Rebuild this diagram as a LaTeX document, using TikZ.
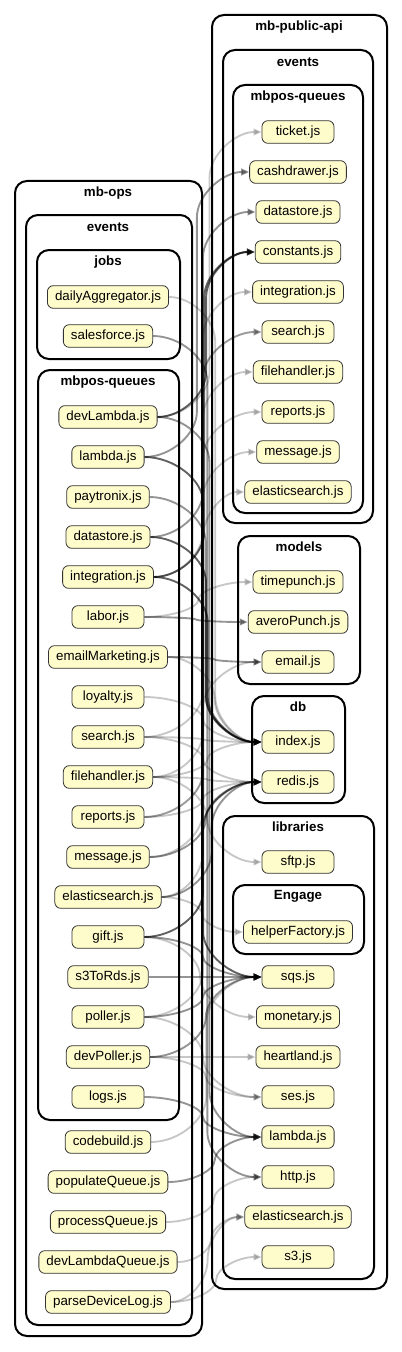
\documentclass[tikz,border=0pt]{standalone}
\usepackage{fontspec}
\setmainfont{Liberation Sans}
\usepackage{tikz}
\usetikzlibrary{arrows.meta,calc}

\begin{document}
\begin{tikzpicture}[x=0.75pt, y=-0.75pt,
    module/.style={draw=black!80, fill=yellow!20, rounded corners=4.5pt, line width=0.6pt,
        minimum height=17pt, minimum width=54pt, inner xsep=5.7pt, inner ysep=0pt,
        font=\fontsize{10}{12}\selectfont},
    cluster/.style={draw=black, line width=1.5pt, rounded corners=9pt},
    title/.style={font=\bfseries\fontsize{10}{12}\selectfont},
    dep/.style={every edge/.style={draw=black, opacity=#1, line width=1.4pt,
        -{Triangle[length=6pt,width=5pt]},
        to path={let \p1=(\tikztostart), \p2=(\tikztotarget),
            \n1={max(-34,min(34,(\y2-\y1)/2))}, \n2={(\x1+\x2)/2} in
            .. controls ({(\x1+\n2)/2},\y1) and (\n2,{\y1+\n1/2}) .. (\n2,{\y1+\n1})
            -- (\n2,{\y2-\n1})
            .. controls (\n2,{\y2-\n1/2}) and ({(\n2+\x2)/2},\y2) .. (\p2)}}},
    dep/.default=0.22
    ]
    \useasboundingbox (0,0) rectangle (401,1352);

    % clusters of mb-ops
    \draw[cluster] (15,181) rectangle (202,1336);
    \node[title] (t-ops) at (108,193) {mb-ops};
    \draw[cluster] (26,215) rectangle (192,1325);
    \node[title] (t-opsevents) at (108,227) {events};
    \draw[cluster] (37,250) rectangle (180,359);
    \node[title] (t-jobs) at (108,262) {jobs};
    \draw[cluster] (38,370) rectangle (179,1120);
    \node[title] (t-opsqueues) at (108,382) {mbpos-queues};

    % clusters of mb-public-api
    \draw[cluster] (212,15) rectangle (387,1289);
    \node[title] (t-api) at (299,27) {mb-public-api};
    \draw[cluster] (223,50) rectangle (373,523);
    \node[title] (t-apievents) at (298,62) {events};
    \draw[cluster] (233,85) rectangle (363,513);
    \node[title] (t-apiqueues) at (298,97) {mbpos-queues};
    \draw[cluster] (238,536) rectangle (360,684);
    \node[title] (t-models) at (299,547) {models};
    \draw[cluster] (252,696) rectangle (345,803);
    \node[title] (t-db) at (298,707) {db};
    \draw[cluster] (223,816) rectangle (374,1279);
    \node[title] (t-libraries) at (298,827) {libraries};
    \draw[cluster] (233,885) rectangle (364,954);
    \node[title] (t-engage) at (298,896) {Engage};

    % modules on the left
    \node[module] (ops-dailyAggregator) at (108,297) {dailyAggregator.js};
    \node[module] (ops-salesforce) at (108,336) {salesforce.js};
    \foreach \m [count=\i from 0] in {devLambda,lambda,paytronix,datastore,integration,labor,emailMarketing,loyalty,search,filehandler,reports,message,elasticsearch,gift,s3ToRds,poller,devPoller,logs} {
        \node[module] (ops-\m) at (108,417+40*\i) {\m.js};
    }
    \foreach \m [count=\i from 0] in {codebuild,populateQueue,processQueue,devLambdaQueue,parseDeviceLog} {
        \node[module] (ops-\m) at (108,1142+40*\i) {\m.js};
    }

    % modules on the right
    \foreach \m [count=\i from 0] in {ticket,cashdrawer,datastore,constants,integration,search,filehandler,reports,message,elasticsearch} {
        \node[module] (api-\m) at (298,132+40*\i) {\m.js};
    }
    \foreach \m [count=\i from 0] in {timepunch,averoPunch,email} {
        \node[module] (mod-\m) at (298,582+40*\i) {\m.js};
    }
    \node[module] (db-index) at (298,742) {index.js};
    \node[module] (db-redis) at (298,782) {redis.js};
    \node[module] (lib-sftp) at (298,862) {sftp.js};
    \node[module] (lib-helperFactory) at (298,932) {helperFactory.js};
    \foreach \m [count=\i from 0] in {sqs,monetary,heartland,ses,lambda,http,elasticsearch,s3} {
        \node[module] (lib-\m) at (298,977+40*\i) {\m.js};
    }

    % light dependencies
    \path[dep]
        (ops-dailyAggregator.east) edge (db-index.west)
        (ops-devLambda.east) edge (api-ticket.west)
        (ops-integration.east) edge (api-integration.west)
        (ops-labor.east) edge (mod-timepunch.west)
        (ops-emailMarketing.east) edge (db-index.west)
        (ops-loyalty.east) edge (db-index.west)
        (ops-search.east) edge (api-search.west)
        (ops-search.east) edge (db-index.west)
        (ops-search.east) edge (db-redis.west)
        (ops-filehandler.east) edge (api-filehandler.west)
        (ops-filehandler.east) edge (db-index.west)
        (ops-filehandler.east) edge (db-redis.west)
        (ops-filehandler.east) edge (lib-sftp.west)
        (ops-reports.east) edge (api-reports.west)
        (ops-reports.east) edge (mod-email.west)
        (ops-reports.east) edge (db-redis.west)
        (ops-message.east) edge (api-message.west)
        (ops-elasticsearch.east) edge (api-elasticsearch.west)
        (ops-elasticsearch.east) edge (lib-helperFactory.west)
        (ops-gift.east) edge (lib-monetary.west)
        (ops-poller.east) edge (api-search.west)
        (ops-poller.east) edge (lib-ses.west)
        (ops-devPoller.east) edge (lib-ses.west)
        (ops-devPoller.east) edge (lib-heartland.west)
        (ops-codebuild.east) edge (lib-sqs.west)
        (ops-processQueue.east) edge (lib-http.west)
        (ops-devLambdaQueue.east) edge (lib-elasticsearch.west)
        (ops-parseDeviceLog.east) edge (lib-s3.west)
        (ops-parseDeviceLog.east) edge (lib-elasticsearch.west)
    ;
    % medium dependencies
    \path[dep=0.42]
        (ops-salesforce.east) edge (lib-http.west)
        (ops-devLambda.east) edge (lib-lambda.west)
        (ops-lambda.east) edge (api-cashdrawer.west)
        (ops-paytronix.east) edge (db-index.west)
        (ops-datastore.east) edge (api-datastore.west)
        (ops-labor.east) edge (mod-averoPunch.west)
        (ops-emailMarketing.east) edge (mod-email.west)
        (ops-message.east) edge (db-redis.west)
        (ops-elasticsearch.east) edge (db-redis.west)
        (ops-gift.east) edge (lib-sqs.west)
        (ops-s3ToRds.east) edge (lib-sqs.west)
        (ops-poller.east) edge (lib-sqs.west)
        (ops-devPoller.east) edge (lib-sqs.west)
        (ops-logs.east) edge (lib-lambda.west)
        (ops-populateQueue.east) edge (lib-lambda.west)
    ;
    % dark dependencies
    \path[dep=0.62]
        (ops-devLambda.east) edge (api-constants.west)
        (ops-integration.east) edge (api-constants.west)
        (ops-lambda.east) edge (lib-sqs.west)
        (ops-datastore.east) edge (db-index.west)
        (ops-integration.east) edge (db-index.west)
        (ops-gift.east) edge (db-redis.west)
    ;
\end{tikzpicture}
\end{document}
